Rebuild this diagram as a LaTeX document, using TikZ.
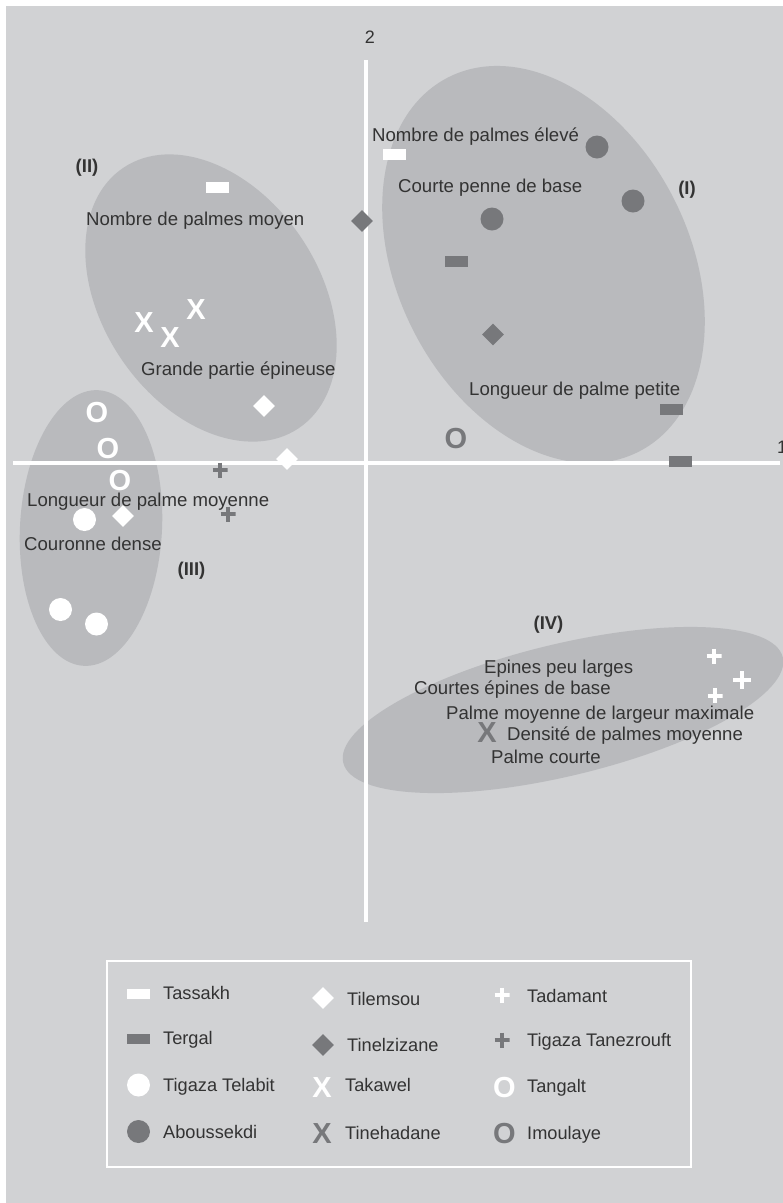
\documentclass[tikz,border=0pt]{standalone}
\usepackage{fontspec}
\setmainfont{Liberation Sans}
\usetikzlibrary{shapes.geometric}
\definecolor{bgray}{HTML}{D1D2D4}
\definecolor{egray}{HTML}{B9BABD}
\definecolor{mgray}{HTML}{77787B}
\definecolor{tgray}{HTML}{333333}
\begin{document}
\begin{tikzpicture}[x=1pt,y=-1pt,
  lbl/.style={font=\fontsize{18.6}{20}\selectfont, text=tgray, inner sep=0pt, text height=13.3pt, text depth=0pt, anchor=west},
  leg/.style={font=\fontsize{18.2}{20}\selectfont, text=tgray, inner sep=0pt, text height=13pt, text depth=0pt, anchor=west},
  grp/.style={font=\fontsize{18.5}{20}\selectfont\bfseries, text=tgray, inner sep=0pt, text height=13.3pt, text depth=0pt},
  axlbl/.style={font=\fontsize{18}{20}\selectfont, text=tgray, inner sep=0pt, text height=13pt, text depth=0pt},
  barmk/.style 2 args={rectangle, minimum width=23pt, minimum height=#2, inner sep=0pt, fill=#1},
  diamk/.style={diamond, minimum width=22pt, minimum height=22pt, inner sep=0pt, fill=#1},
  dotmk/.style={circle, minimum size=23pt, inner sep=0pt, fill=#1},
  glyphmk/.style={font=\fontsize{29}{30}\selectfont\bfseries, text=#1, inner sep=0pt, text height=20.8pt, text depth=0pt},
  plusmk/.style 2 args={rectangle, minimum size=#1, inner sep=0pt,
    path picture={\draw[line width=4pt, color=#2]
      (path picture bounding box.north) -- (path picture bounding box.south)
      (path picture bounding box.west) -- (path picture bounding box.east);}},
  axisline/.style={white, line width=4pt},
]
\useasboundingbox (0,0) rectangle (783,1203);
\fill[white] (0,0) rectangle (783,1203);
\fill[bgray] (6,6) rectangle (783,1203);

% group ellipses
\fill[egray, shift={(543.5,264.5)}, rotate=-63] (0,0) ellipse [x radius=210, y radius=146];
\fill[egray, shift={(211,298)}, rotate=-56] (0,0) ellipse [x radius=157, y radius=108.5];
\fill[egray, shift={(91,528)}, rotate=-3] (0,0) ellipse [x radius=71, y radius=138];
\fill[egray, shift={(563,710)}, rotate=13.5] (0,0) ellipse [x radius=226, y radius=66];

% axes
\coordinate (ax2a) at (365.5,60);
\coordinate (ax2b) at (365.5,922);
\coordinate (ax1a) at (13,463);
\coordinate (ax1b) at (780,463);
\draw[axisline] (ax2a) -- (ax2b);
\draw[axisline] (ax1a) -- (ax1b);
\node[axlbl] (lab2) at (370,37) {2};
\node[axlbl, anchor=west] (lab1) at (777,446.5) {1};

% group labels
\node[grp] (gI) at (687,187.5) {(I)};
\node[grp] (gII) at (87,165.5) {(II)};
\node[grp] (gIII) at (191.5,568.5) {(III)};
\node[grp] (gIV) at (548.5,622.5) {(IV)};

% Tassakh
\node[barmk={white}{11pt}] (tas1) at (217,187) {};
\node[barmk={white}{11pt}] (tas2) at (394,154.5) {};
% Tergal
\node[barmk={mgray}{11pt}] (ter1) at (456.5,261.5) {};
\node[barmk={mgray}{11pt}] (ter2) at (671,409.5) {};
\node[barmk={mgray}{11pt}] (ter3) at (680,461.5) {};
% Aboussekdi
\node[dotmk=mgray] (abo1) at (597,147) {};
\node[dotmk=mgray] (abo2) at (633,201) {};
\node[dotmk=mgray] (abo3) at (492,219) {};
% Tigaza Telabit
\node[dotmk=white] (tel1) at (84.5,519.5) {};
\node[dotmk=white] (tel2) at (60.5,609.5) {};
\node[dotmk=white] (tel3) at (96.5,624) {};
% Tilemsou
\node[diamk=white] (til1) at (264,406) {};
\node[diamk=white] (til2) at (287,459) {};
\node[diamk=white] (til3) at (123,516) {};
% Tinelzizane
\node[diamk=mgray] (tin1) at (362,221) {};
\node[diamk=mgray] (tin2) at (493,334.5) {};
% Takawel
\node[glyphmk=white] (tak1) at (144,322) {X};
\node[glyphmk=white] (tak2) at (170,337) {X};
\node[glyphmk=white] (tak3) at (196,309) {X};
% Tinehadane
\node[glyphmk=mgray] (thd1) at (487,732) {X};
% Tadamant
\node[plusmk={15pt}{white}] (tad1) at (714,656) {};
\node[plusmk={18pt}{white}] (tad2) at (742,680) {};
\node[plusmk={15pt}{white}] (tad3) at (715,695.5) {};
% Tigaza Tanezrouft
\node[plusmk={15pt}{mgray}] (tzt1) at (220,470) {};
\node[plusmk={15pt}{mgray}] (tzt2) at (228,514) {};
% Tangalt
\node[glyphmk=white] (tan1) at (97,412.5) {O};
\node[glyphmk=white] (tan2) at (108,448) {O};
\node[glyphmk=white] (tan3) at (120,480.5) {O};
% Imoulaye
\node[glyphmk=mgray] (imo1) at (456,438) {O};

% variable labels
\node[lbl] (t1) at (86,218.5) {Nombre de palmes moyen};
\node[lbl] (t2) at (141,368.5) {Grande partie épineuse};
\node[lbl] (t3) at (372,135) {Nombre de palmes élevé};
\node[lbl] (t4) at (398,186) {Courte penne de base};
\node[lbl] (t5) at (469,389) {Longueur de palme petite};
\node[lbl] (t6) at (27,499.5) {Longueur de palme moyenne};
\node[lbl] (t7) at (24,543.5) {Couronne dense};
\node[lbl] (t8) at (484,666.5) {Epines peu larges};
\node[lbl] (t9) at (414,688) {Courtes épines de base};
\node[lbl] (t10) at (446,713) {Palme moyenne de largeur maximale};
\node[lbl] (t11) at (507,734) {Densité de palmes moyenne};
\node[lbl] (t12) at (491,756.5) {Palme courte};

% legend
\node[draw=white, line width=1.5pt, minimum width=584pt, minimum height=206pt, inner sep=0pt] (legend) at (399,1064) {};
\node[barmk={white}{10pt}] (lg1s) at (138.5,993.5) {};
\node[leg] (lg1) at (163,993) {Tassakh};
\node[barmk={mgray}{10pt}] (lg2s) at (138.5,1039) {};
\node[leg] (lg2) at (163,1038) {Tergal};
\node[dotmk=white] (lg3s) at (138.5,1085) {};
\node[leg] (lg3) at (163,1085) {Tigaza Telabit};
\node[dotmk=mgray] (lg4s) at (138.5,1131.5) {};
\node[leg] (lg4) at (163,1132) {Aboussekdi};
\node[diamk=white] (lg5s) at (323,998) {};
\node[leg] (lg5) at (347,998.5) {Tilemsou};
\node[diamk=mgray] (lg6s) at (323,1045) {};
\node[leg] (lg6) at (347,1045) {Tinelzizane};
\node[glyphmk=white] (lg7s) at (322,1087) {X};
\node[leg] (lg7) at (345,1085) {Takawel};
\node[glyphmk=mgray] (lg8s) at (322,1133) {X};
\node[leg] (lg8) at (345,1133) {Tinehadane};
\node[plusmk={15pt}{white}] (lg9s) at (502,995) {};
\node[leg] (lg9) at (527,995.5) {Tadamant};
\node[plusmk={15pt}{mgray}] (lg10s) at (502,1040) {};
\node[leg] (lg10) at (527,1040) {Tigaza Tanezrouft};
\node[glyphmk=white] (lg11s) at (504.5,1087.5) {O};
\node[leg] (lg11) at (527,1085.5) {Tangalt};
\node[glyphmk=mgray] (lg12s) at (504.5,1133.5) {O};
\node[leg] (lg12) at (527,1132.5) {Imoulaye};
\end{tikzpicture}
\end{document}
